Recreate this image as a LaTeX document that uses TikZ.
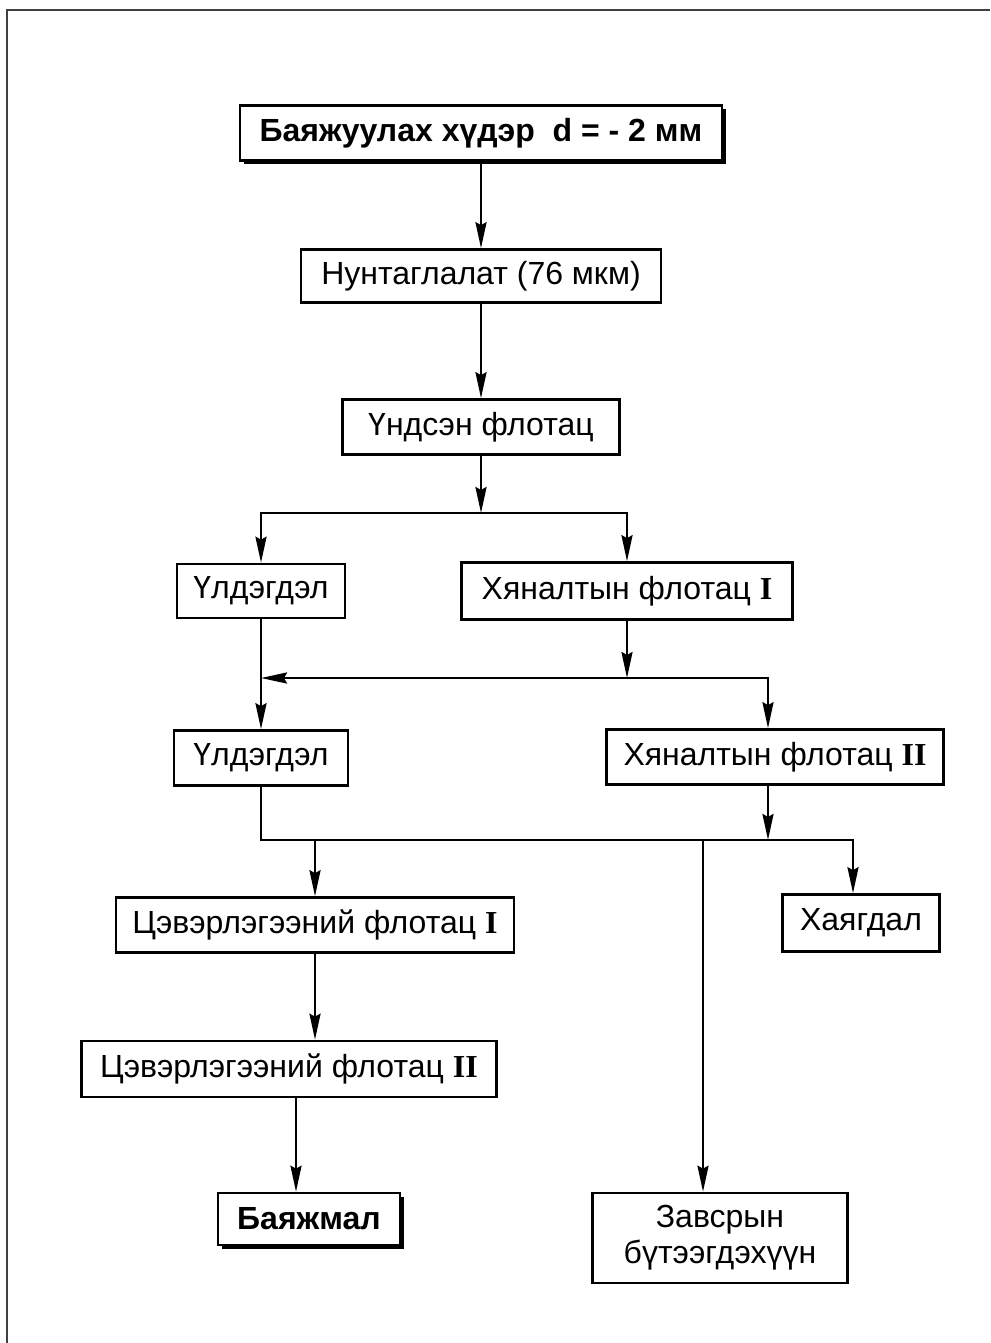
\documentclass[tikz,border=0pt]{standalone}
\usepackage{fontspec}
\setmainfont{Liberation Sans}
\newfontfamily\romfont{Liberation Serif}
\usetikzlibrary{arrows.meta,shadows}
\newcommand{\rom}[1]{{\romfont\bfseries #1}}

\begin{document}
\begin{tikzpicture}[x=1pt,y=-1pt,
    box/.style={draw,line width=2.6pt,minimum height=55pt,inner sep=0pt,
        font=\fontsize{32}{36}\selectfont},
    boldbox/.style={box,fill=white,font=\fontsize{32}{36}\selectfont\bfseries,
        drop shadow={shadow xshift=4pt,shadow yshift=-4pt,fill=black,opacity=1}},
    arr/.style={line width=2.6pt,-{Stealth[length=26pt,width=11pt,inset=3pt]}}]
    \useasboundingbox (0,0) rectangle (990,1343);
    \draw[black!75,line width=2pt] (7,1343) -- (7,10) -- (990,10);

    \node[boldbox,minimum width=482pt] (feed) at (481,133) {Баяжуулах хүдэр\ \ d = - 2 мм};
    \node[box,minimum width=360pt,minimum height=53pt] (grind) at (481,276) {Нунтаглалат (76 мкм)};
    \node[box,minimum width=277pt] (rough) at (481,427) {Үндсэн флотац};
    \node[box,minimum width=168pt,minimum height=54pt] (tail1) at (261,591) {Үлдэгдэл};
    \node[box,minimum width=331pt,minimum height=57pt] (scav1) at (627,591) {Хяналтын флотац \rom{I}};
    \node[box,minimum width=174pt] (tail2) at (261,758) {Үлдэгдэл};
    \node[box,minimum width=337pt] (scav2) at (775,757) {Хяналтын флотац \rom{II}};
    \node[box,minimum width=398pt] (clean1) at (315,925) {Цэвэрлэгээний флотац \rom{I}};
    \node[box,minimum width=157pt,minimum height=57pt] (waste) at (861,923) {Хаягдал};
    \node[box,minimum width=415pt,minimum height=56pt] (clean2) at (289,1069) {Цэвэрлэгээний флотац \rom{II}};
    \node[boldbox,minimum width=182pt,minimum height=52pt] (conc) at (309,1219) {Баяжмал};
    \node[box,minimum width=255pt,minimum height=90pt,align=center] (mid) at (720,1238) {Завсрын\\бүтээгдэхүүн};

    \coordinate (split) at (481,513);
    \coordinate (merge) at (627,678);
    \coordinate (bus) at (0,840);

    \draw[arr] (feed) -- (grind);
    \draw[arr] (grind) -- (rough);
    \draw[arr] (rough) -- (split);
    \draw[arr] (split) -| (tail1);
    \draw[arr] (split) -| (scav1);
    \draw[arr] (scav1) -- (merge);
    \draw[arr] (merge) -- (merge -| tail1);
    \draw[arr] (merge) -| ([xshift=-7pt]scav2.north);
    \draw[arr] (tail1) -- (tail2);
    \draw[arr] (tail2.south) |- ([xshift=-8pt]waste.north |- bus) -- ([xshift=-8pt]waste.north);
    \draw[arr] ([xshift=-7pt]scav2.south) -- ([xshift=-7pt]scav2.south |- bus);
    \draw[arr] (clean1.north |- bus) -- (clean1.north);
    \draw[arr] ([xshift=-17pt]mid.north |- bus) -- ([xshift=-17pt]mid.north);
    \draw[arr] (clean1) -- (clean1.south |- clean2.north);
    \draw[arr] ([xshift=7pt]clean2.south) -- ([xshift=7pt]clean2.south |- conc.north);
\end{tikzpicture}
\end{document}
